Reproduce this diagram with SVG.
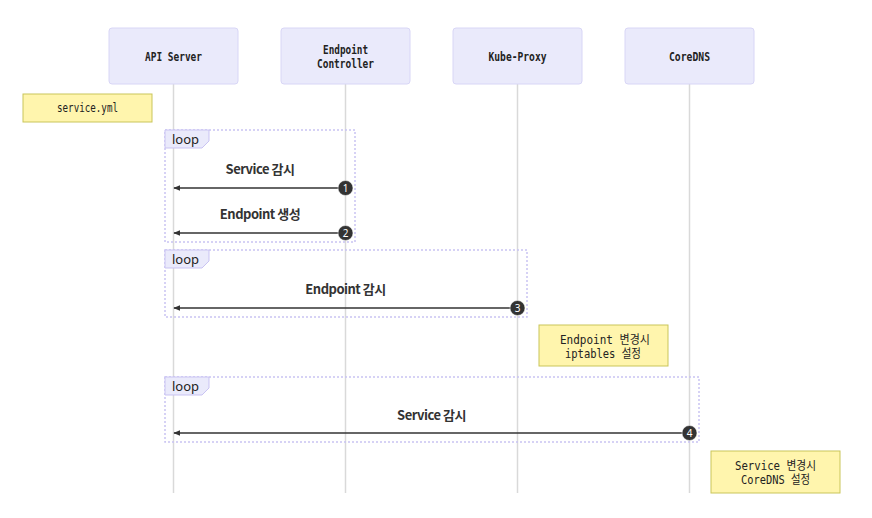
<svg xmlns="http://www.w3.org/2000/svg" width="872" height="518" viewBox="0 0 872 518">
<defs>
<style>
.actor{fill:#eaeafb;stroke:#d8d6f6;stroke-width:1}
.atext{font-family:"DejaVu Sans Mono","Liberation Mono",monospace;font-size:12px;font-weight:bold;fill:#222;text-anchor:middle}
.life{stroke:#d9d9d9;stroke-width:1.5}
.note{fill:#fff5ad;stroke:#c9c55a;stroke-width:1}
.ntext{font-family:"DejaVu Sans Mono","Liberation Mono","Noto Sans CJK KR",monospace;font-size:12px;fill:#222;text-anchor:middle}
.loop{fill:none;stroke:#c9c3f2;stroke-width:1.5;stroke-dasharray:2 2}
.lbox{fill:#eaeafb;stroke:#c9c3f2;stroke-width:1}
.ltext{font-family:"Noto Sans","Noto Sans CJK KR",sans-serif;font-size:13px;fill:#222}
.msg{stroke:#333;stroke-width:1.5;fill:none}
.mtext{font-family:"Noto Sans CJK KR","Noto Sans",sans-serif;font-size:13px;font-weight:bold;fill:#333;text-anchor:middle;letter-spacing:-0.5px}
.num{fill:#333;stroke:#fff;stroke-width:0.5}
.ntxt{font-family:"Noto Sans",sans-serif;font-size:10px;fill:#fff;text-anchor:middle}
</style>
<marker id="ah" viewBox="0 0 10 10" refX="9" refY="5" markerWidth="7" markerHeight="7" orient="auto-start-reverse" markerUnits="userSpaceOnUse">
<path d="M0,1 L10,5 L0,9 z" fill="#333"/>
</marker>
</defs>
<g id="lifelines">
<line class="life" x1="173.5" y1="84" x2="173.5" y2="493"/>
<line class="life" x1="345.5" y1="84" x2="345.5" y2="493"/>
<line class="life" x1="517.5" y1="84" x2="517.5" y2="493"/>
<line class="life" x1="689.5" y1="84" x2="689.5" y2="493"/>
</g>
<g id="api-server"><rect class="actor" x="109" y="28" width="129" height="56" rx="3"/><text class="atext" x="173.5" y="61" textLength="57" lengthAdjust="spacingAndGlyphs">API Server</text></g>
<g id="endpoint-controller"><rect class="actor" x="281" y="28" width="129" height="56" rx="3"/><text class="atext" x="345.5" y="54" textLength="45" lengthAdjust="spacingAndGlyphs">Endpoint</text><text class="atext" x="345.5" y="68" textLength="57" lengthAdjust="spacingAndGlyphs">Controller</text></g>
<g id="kube-proxy"><rect class="actor" x="453" y="28" width="129" height="56" rx="3"/><text class="atext" x="517.5" y="61" textLength="58" lengthAdjust="spacingAndGlyphs">Kube-Proxy</text></g>
<g id="coredns"><rect class="actor" x="625" y="28" width="129" height="56" rx="3"/><text class="atext" x="689.5" y="61" textLength="41" lengthAdjust="spacingAndGlyphs">CoreDNS</text></g>
<g id="note-service-yml"><rect class="note" x="23" y="94" width="129" height="28"/><text class="ntext" x="87.5" y="112" textLength="61" lengthAdjust="spacingAndGlyphs">service.yml</text></g>
<g id="loop1"><rect class="loop" x="165" y="130" width="190" height="112"/><polygon class="lbox" points="165,130 209,130 209,141 202,148 165,148"/><text class="ltext" x="172" y="144">loop</text></g>
<g id="loop2"><rect class="loop" x="165" y="250" width="362" height="67"/><polygon class="lbox" points="165,250 209,250 209,261 202,268 165,268"/><text class="ltext" x="172" y="264">loop</text></g>
<g id="loop3"><rect class="loop" x="165" y="377" width="534" height="65"/><polygon class="lbox" points="165,377 209,377 209,388 202,395 165,395"/><text class="ltext" x="172" y="391">loop</text></g>
<g id="note-iptables"><rect class="note" x="539" y="325" width="129" height="41"/><text class="ntext" x="605" y="344" textLength="90" lengthAdjust="spacingAndGlyphs">Endpoint 변경시</text><text class="ntext" x="603" y="358" textLength="76" lengthAdjust="spacingAndGlyphs">iptables 설정</text></g>
<g id="note-coredns"><rect class="note" x="711" y="451" width="129" height="42"/><text class="ntext" x="775.5" y="470" textLength="81" lengthAdjust="spacingAndGlyphs">Service 변경시</text><text class="ntext" x="775.5" y="484" textLength="69" lengthAdjust="spacingAndGlyphs">CoreDNS 설정</text></g>
<g id="connectors">
<line class="msg" x1="345.5" y1="188" x2="174" y2="188" marker-end="url(#ah)"/>
<text class="mtext" x="260" y="174">Service 감시</text>
<circle class="num" cx="345.5" cy="188" r="7.5"/><text class="ntxt" x="345.5" y="191.5">1</text>
<line class="msg" x1="345.5" y1="233" x2="174" y2="233" marker-end="url(#ah)"/>
<text class="mtext" x="260" y="219">Endpoint 생성</text>
<circle class="num" cx="345.5" cy="233" r="7.5"/><text class="ntxt" x="345.5" y="236.5">2</text>
<line class="msg" x1="517.5" y1="308" x2="174" y2="308" marker-end="url(#ah)"/>
<text class="mtext" x="345.5" y="294">Endpoint 감시</text>
<circle class="num" cx="517.5" cy="308" r="7.5"/><text class="ntxt" x="517.5" y="311.5">3</text>
<line class="msg" x1="689.5" y1="433" x2="174" y2="433" marker-end="url(#ah)"/>
<text class="mtext" x="431.5" y="420">Service 감시</text>
<circle class="num" cx="689.5" cy="433" r="7.5"/><text class="ntxt" x="689.5" y="436.5">4</text>
</g>
</svg>
